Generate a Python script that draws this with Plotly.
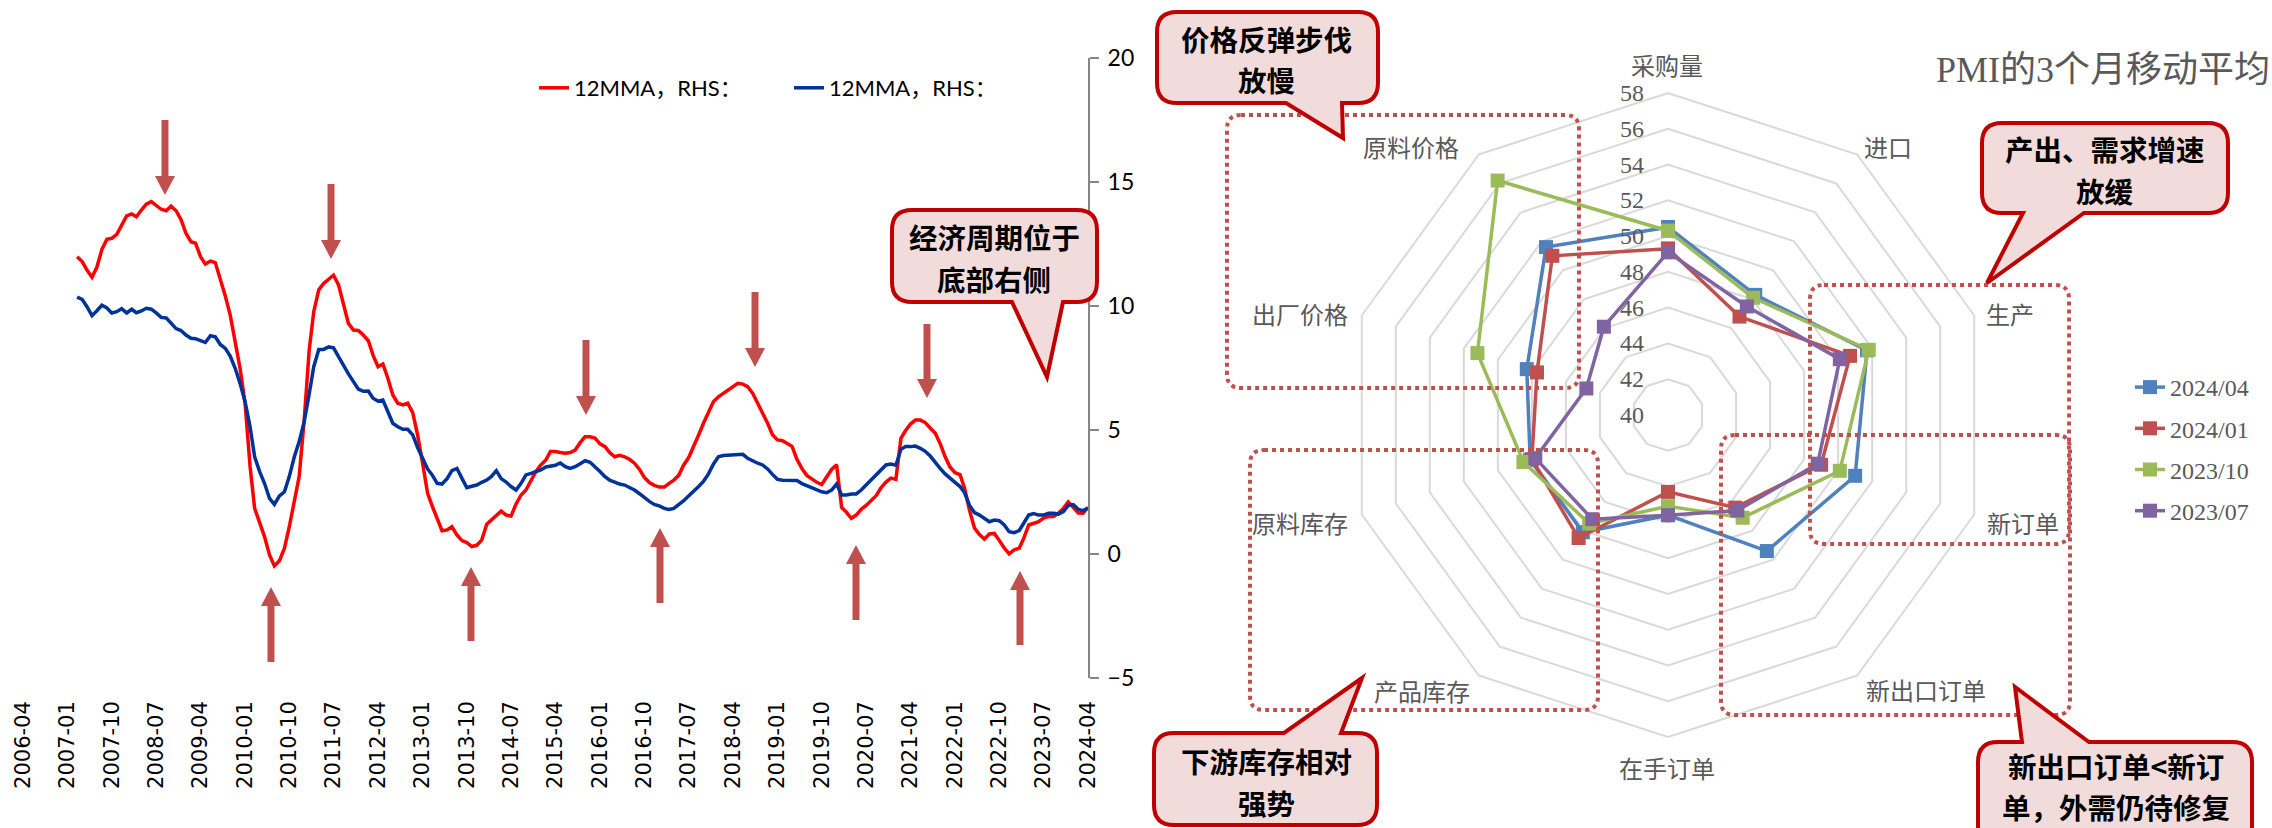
import pandas as pd
import plotly.graph_objects as go

W, H = 2272, 828

# ---------------- left panel: 12-month moving averages (monthly, from 2007-03) ----------------
first_month = "2007-03-01"
red_12mma = [
    11.99, 11.79, 11.45, 11.16, 11.56, 12.28, 12.69, 12.73, 12.89, 13.27,
    13.63, 13.71, 13.60, 13.87, 14.11, 14.21, 14.07, 13.90, 13.84, 14.03,
    13.84, 13.49, 12.93, 12.59, 12.53, 11.99, 11.69, 11.81, 11.75, 11.12,
    10.40, 9.64, 8.56, 7.49, 6.08, 3.52, 1.84, 1.24, 0.70, -0.04,
    -0.48, -0.27, 0.23, 1.10, 2.11, 3.12, 5.40, 8.23, 9.77, 10.65,
    10.91, 11.08, 11.24, 10.85, 10.04, 9.30, 9.03, 9.01, 8.83, 8.60,
    8.02, 7.55, 7.66, 7.08, 6.41, 6.08, 6.01, 6.08, 5.70, 4.80,
    3.66, 2.45, 1.94, 1.44, 0.94, 0.97, 1.10, 0.77, 0.54, 0.46,
    0.30, 0.35, 0.56, 1.20, 1.37, 1.55, 1.73, 1.57, 1.53, 2.02,
    2.38, 2.58, 2.98, 3.32, 3.59, 3.79, 4.13, 4.13, 4.09, 4.06,
    4.09, 4.19, 4.49, 4.73, 4.73, 4.68, 4.44, 4.33, 4.09, 3.92,
    3.98, 3.92, 3.82, 3.66, 3.41, 3.09, 2.88, 2.77, 2.70, 2.70,
    2.84, 2.98, 3.17, 3.59, 3.88, 4.30, 4.80, 5.27, 5.74, 6.14,
    6.34, 6.48, 6.61, 6.75, 6.88, 6.85, 6.75, 6.48, 6.08, 5.73,
    5.27, 4.81, 4.60, 4.57, 4.45, 4.34, 3.82, 3.44, 3.17, 3.01,
    2.89, 2.80, 3.08, 3.41, 3.60, 1.88, 1.69, 1.44, 1.57, 1.80,
    1.96, 2.15, 2.35, 2.67, 2.90, 3.06, 3.01, 4.66, 4.97, 5.24,
    5.40, 5.40, 5.30, 5.08, 4.87, 4.46, 3.92, 3.51, 3.28, 3.20,
    2.65, 1.75, 1.05, 0.78, 0.60, 0.81, 0.83, 0.55, 0.24, 0.01,
    0.17, 0.23, 0.63, 1.17, 1.24, 1.30, 1.45, 1.51, 1.51, 1.64,
    1.84, 2.10, 1.88, 1.65, 1.64, 1.88,
]
blue_12mma = [
    10.36, 10.27, 9.97, 9.61, 9.81, 10.03, 9.92, 9.72, 9.77, 9.89,
    9.72, 9.87, 9.73, 9.80, 9.91, 9.87, 9.72, 9.54, 9.52, 9.30,
    9.09, 9.01, 8.83, 8.70, 8.68, 8.60, 8.53, 8.80, 8.76, 8.45,
    8.29, 7.98, 7.49, 6.88, 6.14, 5.13, 3.92, 3.32, 2.85, 2.24,
    2.00, 2.34, 2.51, 3.12, 3.92, 4.53, 5.34, 6.45, 7.55, 8.25,
    8.25, 8.35, 8.31, 7.96, 7.58, 7.26, 6.95, 6.65, 6.56, 6.57,
    6.28, 6.16, 6.21, 5.70, 5.27, 5.13, 5.03, 5.03, 4.80, 4.29,
    3.82, 3.43, 3.19, 2.85, 2.82, 3.04, 3.36, 3.45, 3.05, 2.67,
    2.73, 2.78, 2.89, 2.98, 3.12, 3.36, 3.04, 2.90, 2.72, 2.58,
    2.85, 3.19, 3.25, 3.32, 3.39, 3.51, 3.55, 3.58, 3.67, 3.52,
    3.45, 3.52, 3.64, 3.76, 3.70, 3.53, 3.33, 3.12, 2.98, 2.90,
    2.82, 2.78, 2.70, 2.58, 2.43, 2.27, 2.12, 2.00, 1.94, 1.84,
    1.80, 1.84, 1.98, 2.15, 2.34, 2.51, 2.72, 2.93, 3.23, 3.62,
    3.92, 3.97, 3.99, 3.99, 4.02, 4.02, 3.86, 3.75, 3.66, 3.59,
    3.43, 3.21, 3.01, 2.97, 2.97, 2.98, 2.96, 2.84, 2.76, 2.69,
    2.61, 2.51, 2.47, 2.58, 2.82, 2.38, 2.38, 2.42, 2.42, 2.58,
    2.78, 2.98, 3.19, 3.41, 3.59, 3.63, 3.58, 4.22, 4.33, 4.33,
    4.35, 4.26, 4.14, 3.95, 3.68, 3.45, 3.23, 3.04, 2.89, 2.72,
    2.47, 1.96, 1.67, 1.57, 1.44, 1.30, 1.37, 1.34, 1.17, 0.90,
    0.86, 0.94, 1.24, 1.57, 1.63, 1.57, 1.57, 1.64, 1.64, 1.61,
    1.71, 1.96, 1.99, 1.80, 1.75, 1.85,
]
x_tick_labels = [
    "2006-04", "2007-01", "2007-10", "2008-07", "2009-04", "2010-01", "2010-10",
    "2011-07", "2012-04", "2013-01", "2013-10", "2014-07", "2015-04", "2016-01",
    "2016-10", "2017-07", "2018-04", "2019-01", "2019-10", "2020-07", "2021-04",
    "2022-01", "2022-10", "2023-07", "2024-04",
]
y_ticks = [-5, 0, 5, 10, 15, 20]
legend_label = "12MMA，RHS："

# ---------------- right panel: PMI sub-indices, 3-month moving average ----------------
radar_axes = ["采购量", "进口", "生产", "新订单", "新出口订单",
              "在手订单", "产品库存", "原料库存", "出厂价格", "原料价格"]
pmi_2024_04 = [50.5, 48.3, 51.7, 51.0, 49.4, 45.6, 48.1, 48.1, 48.3, 51.6]
pmi_2024_01 = [49.3, 46.8, 50.7, 49.0, 46.4, 44.3, 48.5, 48.0, 47.7, 51.0]
pmi_2023_10 = [50.3, 48.1, 51.8, 50.1, 47.1, 45.1, 47.5, 48.5, 51.2, 56.2]
pmi_2023_07 = [49.1, 47.5, 50.1, 48.8, 46.6, 45.6, 47.2, 47.8, 44.8, 46.1]
radar_series = [
    ("2024/04", pmi_2024_04, "#4F81BD"),
    ("2024/01", pmi_2024_01, "#C0504D"),
    ("2023/10", pmi_2023_10, "#9BBB59"),
    ("2023/07", pmi_2023_07, "#8064A2"),
]
radial_range = (40, 58)
radial_ticks = list(range(40, 59, 2))

CJK = "Noto Sans CJK SC"

# layout geometry (pixels)
RADAR_C = (1668, 415)
RADAR_R = 322
RADIAL_LABEL_X = 1632
# spoke label anchors, in the same order as radar_axes
spoke_label_xy = [(1667, 64), (1888, 146), (2010, 313), (2023, 522), (1926, 689),
                  (1667, 767), (1422, 690), (1300, 522), (1300, 313), (1411, 146)]


def P(x, y):
    """pixel -> paper coordinate string"""
    return f"{x / W:.5f},{1 - y / H:.5f}"


def rounded_box(x0, y0, x1, y1, r, side=None, b0=None, b1=None, tip=None):
    d = [f"M{P(x0 + r, y0)}"]
    if side == "top":
        d += [f"L{P(b0, y0)}", f"L{P(*tip)}", f"L{P(b1, y0)}"]
    d += [f"L{P(x1 - r, y0)}", f"Q{P(x1, y0)} {P(x1, y0 + r)}",
          f"L{P(x1, y1 - r)}", f"Q{P(x1, y1)} {P(x1 - r, y1)}"]
    if side == "bottom":
        d += [f"L{P(b1, y1)}", f"L{P(*tip)}", f"L{P(b0, y1)}"]
    d += [f"L{P(x0 + r, y1)}", f"Q{P(x0, y1)} {P(x0, y1 - r)}",
          f"L{P(x0, y0 + r)}", f"Q{P(x0, y0)} {P(x0 + r, y0)}", "Z"]
    return " ".join(d)


def arrow(x, tail, tip, shaft=3.5, head=10, head_len=19):
    s = 1 if tip > tail else -1
    hb = tip - s * head_len
    pts = [(x - shaft, tail), (x + shaft, tail), (x + shaft, hb), (x + head, hb),
           (x, tip), (x - head, hb), (x - shaft, hb)]
    return "M" + " L".join(P(*p) for p in pts) + " Z"


fig = go.Figure()

months = pd.date_range(first_month, periods=len(red_12mma), freq="MS")
fig.add_trace(go.Scatter(x=months, y=red_12mma, mode="lines", name=legend_label,
                         line=dict(color="#FF0000", width=3.5), legend="legend2",
                         xaxis="x", yaxis="y"))
fig.add_trace(go.Scatter(x=months, y=blue_12mma, mode="lines", name=legend_label,
                         line=dict(color="#003399", width=3.5), legend="legend2",
                         xaxis="x", yaxis="y"))

for name, vals, col in radar_series:
    fig.add_trace(go.Scatterpolar(
        r=vals + vals[:1], theta=radar_axes + radar_axes[:1], name=name,
        mode="lines+markers", line=dict(color=col, width=3.5),
        marker=dict(symbol="square", size=14, color=col),
        legendgroup=name, legend="legend",
    ))

x_dom = [23 / W, 1088 / W]
y_dom = [1 - 678 / H, 1 - 58 / H]
tickvals = [t + "-01" for t in x_tick_labels]
cx, cy = RADAR_C

fig.update_layout(
    width=W, height=H, margin=dict(l=0, r=0, t=0, b=0, autoexpand=False),
    paper_bgcolor="white", plot_bgcolor="white",
    xaxis=dict(domain=x_dom, type="date", range=[tickvals[0], tickvals[-1]],
               tickmode="array", tickvals=tickvals, ticktext=x_tick_labels,
               tickangle=-90, tickfont=dict(family="DejaVu Sans", size=21, color="black"),
               ticks="", showline=False, showgrid=False, zeroline=False,
               ticklabelstandoff=18, anchor="y", automargin=False),
    xaxis2=dict(domain=x_dom, type="date", range=[tickvals[0], tickvals[-1]],
                overlaying="x", anchor="free", position=1 - 554 / H,
                tickmode="array", tickvals=tickvals, showticklabels=False,
                ticks="outside", ticklen=10, tickwidth=2, tickcolor="#A6A6A6",
                showline=True, linecolor="#A6A6A6", linewidth=3,
                showgrid=False, zeroline=False, automargin=False),
    yaxis=dict(domain=y_dom, range=[-5, 20], side="right", anchor="x",
               tickmode="array", tickvals=y_ticks,
               ticks="outside", ticklen=9, tickwidth=2, tickcolor="#868686",
               showline=True, linecolor="#868686", linewidth=2,
               showgrid=False, zeroline=False, ticklabelstandoff=4, automargin=False,
               tickfont=dict(family="Lato", size=23, color="black")),
    polar=dict(
        domain=dict(x=[(cx - RADAR_R) / W, (cx + RADAR_R) / W],
                    y=[1 - (cy + RADAR_R) / H, 1 - (cy - RADAR_R) / H]),
        gridshape="linear", bgcolor="white",
        angularaxis=dict(rotation=90, direction="clockwise", categoryorder="array",
                         categoryarray=radar_axes, showgrid=False, showline=True,
                         linecolor="#D9D9D9", linewidth=2, ticks="",
                         showticklabels=False),
        radialaxis=dict(range=list(radial_range), tickmode="array", tickvals=radial_ticks,
                        angle=90, showticklabels=False,
                        showline=False, ticks="", showgrid=True,
                        gridcolor="#D9D9D9", gridwidth=2, layer="below traces"),
    ),
    legend=dict(x=2130 / W, y=1 - 365 / H, xanchor="left", yanchor="top",
                orientation="v", tracegroupgap=7, bgcolor="rgba(0,0,0,0)",
                font=dict(family="Liberation Serif", size=24, color="#595959")),
    legend2=dict(x=534 / W, y=1 - 88 / H, xanchor="left", yanchor="middle",
                 orientation="h", entrywidth=210, bgcolor="rgba(0,0,0,0)",
                 font=dict(family="Lato, " + CJK, size=22, color="black")),
    showlegend=True,
)

shapes = []
# peak / trough markers on the cycle panel
down_arrows = [(165, 120, 195), (331, 184, 259), (586, 340, 415), (755, 292, 367), (927, 324, 398)]
up_arrows = [(271, 662, 587), (471, 641, 567), (660, 603, 528), (856, 620, 545), (1020, 645, 571)]
for a in down_arrows + up_arrows:
    shapes.append(dict(type="path", xref="paper", yref="paper", path=arrow(*a),
                       fillcolor="#C0504D", line=dict(width=0), layer="above"))

# dotted groupings on the radar
for (x0, y0, x1, y1) in [(1227, 115, 1579, 388), (1810, 285, 2069, 544),
                         (1721, 435, 2070, 715), (1250, 450, 1598, 710)]:
    shapes.append(dict(type="path", xref="paper", yref="paper",
                       path=rounded_box(x0, y0, x1, y1, 14),
                       line=dict(color="#C0504D", width=4, dash="dot"),
                       fillcolor="rgba(0,0,0,0)", layer="above"))

annotations = []
# radial scale values, set just left of the vertical spoke at each ring
r0, r1 = radial_range
for v in radial_ticks:
    ring_y = cy - (v - r0) / (r1 - r0) * RADAR_R
    annotations.append(dict(xref="paper", yref="paper", x=RADIAL_LABEL_X / W,
                            y=1 - ring_y / H, text=str(v), showarrow=False,
                            xanchor="center", yanchor="middle",
                            font=dict(family="Liberation Serif", size=24, color="#595959")))

# spoke names around the radar
for label, (lx, ly) in zip(radar_axes, spoke_label_xy):
    annotations.append(dict(xref="paper", yref="paper", x=lx / W, y=1 - ly / H,
                            text=label, showarrow=False, xanchor="center", yanchor="middle",
                            font=dict(family=CJK, size=24, color="#595959")))

# speech-bubble callouts: box, pointer side, pointer base, pointer tip, text lines, text centre x, line y's
callouts = [
    ((892, 210, 1097, 302), "bottom", 1012, 1063, (1047, 377),
     ["经济周期位于", "底部右侧"], 994, (237, 278.5)),
    ((1157, 12, 1378, 103), "bottom", 1286, 1342, (1343, 138),
     ["价格反弹步伐", "放慢"], 1266, (38.5, 80)),
    ((1982, 123, 2228, 213), "bottom", 2023, 2084, (1987, 283),
     ["产出、需求增速", "放缓"], 2105, (148.5, 190)),
    ((1154, 733, 1377, 825), "top", 1284, 1341, (1362, 678),
     ["下游库存相对", "强势"], 1266, (760.5, 802)),
    ((1978, 742, 2252, 845), "top", 2022, 2089, (2015, 687),
     ["新出口订单<新订", "单，外需仍待修复"], 2116, (765, 806.5)),
]
for box, side, b0, b1, tip, lines, tx, tys in callouts:
    shapes.append(dict(type="path", xref="paper", yref="paper",
                       path=rounded_box(*box, 20, side, b0, b1, tip),
                       fillcolor="#F2DCDB", line=dict(color="#C00000", width=4), layer="above"))
    for line, ty in zip(lines, tys):
        annotations.append(dict(xref="paper", yref="paper", x=tx / W, y=1 - ty / H,
                                text="<b>" + line + "</b>", showarrow=False,
                                xanchor="center", yanchor="middle",
                                font=dict(family=CJK, size=28.5, color="black")))

annotations.append(dict(xref="paper", yref="paper", x=1934 / W, y=1 - 70 / H,
                        text="PMI的3个月移动平均", showarrow=False, xanchor="left",
                        yanchor="middle",
                        font=dict(family="Liberation Serif, " + CJK, size=36, color="#595959")))

fig.update_layout(shapes=shapes, annotations=annotations)

fig.write_html("out.html", config={"displayModeBar": False})
